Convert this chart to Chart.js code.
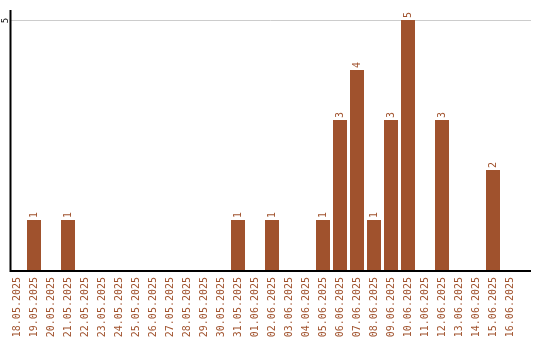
<!DOCTYPE html>
<html><head><meta charset="utf-8">
<script src="https://cdn.jsdelivr.net/npm/chart.js@4/dist/chart.umd.min.js"></script>
<style>html,body{margin:0;padding:0;background:#fff}#wrap{width:540px;height:340px}</style>
</head><body><div id="wrap"><canvas id="c" width="540" height="340"></canvas></div>
<script>
const categories = ["18.05.2025","19.05.2025","20.05.2025","21.05.2025","22.05.2025","23.05.2025","24.05.2025","25.05.2025","26.05.2025","27.05.2025","28.05.2025","29.05.2025","30.05.2025","31.05.2025","01.06.2025","02.06.2025","03.06.2025","04.06.2025","05.06.2025","06.06.2025","07.06.2025","08.06.2025","09.06.2025","10.06.2025","11.06.2025","12.06.2025","13.06.2025","14.06.2025","15.06.2025","16.06.2025"];
const counts = [0,1,0,1,0,0,0,0,0,0,0,0,0,1,0,1,0,0,1,3,4,1,3,5,0,3,0,0,2,0];
const yTicks = [5];

const BROWN = '#A0522D';
const FONT = '"DejaVu Sans Mono", monospace';

const decor = {
  id: 'decor',
  beforeDatasetsDraw(chart) {
    const ctx = chart.ctx, y = chart.scales.y, a = chart.chartArea;
    const axX = 10.5, right = 531;
    ctx.save();
    ctx.strokeStyle = '#cccccc'; ctx.lineWidth = 1;
    yTicks.forEach(v => {
      const py = Math.round(y.getPixelForValue(v)) + 0.5;
      ctx.beginPath(); ctx.moveTo(axX, py); ctx.lineTo(right, py); ctx.stroke();
      ctx.save();
      ctx.translate(6, py); ctx.rotate(-Math.PI/2);
      ctx.fillStyle = '#000'; ctx.font = '9px ' + FONT;
      ctx.textAlign = 'center'; ctx.textBaseline = 'middle';
      ctx.fillText(String(v), 0, 0);
      ctx.restore();
    });
    ctx.restore();
  },
  afterDatasetsDraw(chart) {
    const ctx = chart.ctx, a = chart.chartArea;
    const axX = 10.5, right = 531;
    ctx.save();
    ctx.strokeStyle = '#000'; ctx.lineWidth = 2;
    ctx.beginPath(); ctx.moveTo(axX, a.top); ctx.lineTo(axX, a.bottom + 1); ctx.lineTo(right, a.bottom + 1); ctx.stroke();
    const meta = chart.getDatasetMeta(0);
    ctx.fillStyle = BROWN; ctx.font = '10px ' + FONT;
    ctx.textAlign = 'left'; ctx.textBaseline = 'middle';
    meta.data.forEach((bar, i) => {
      const v = counts[i];
      if (!v) return;
      ctx.save();
      ctx.translate(bar.x, bar.y - 2);
      ctx.rotate(-Math.PI/2);
      ctx.fillText(String(v), 0, 0);
      ctx.restore();
    });
    ctx.restore();
  }
};

new Chart(document.getElementById('c'), {
  type: 'bar',
  data: { labels: categories, datasets: [{ data: counts, backgroundColor: BROWN, categoryPercentage: 1, barPercentage: 14/17 }] },
  options: {
    responsive: false, animation: false,
    layout: { padding: { left: 8.5, right: 21.5, top: 10, bottom: 0 } },
    plugins: { legend: { display: false }, tooltip: { enabled: false } },
    scales: {
      x: {
        grid: { display: false, drawTicks: false }, border: { display: false },
        ticks: { color: BROWN, font: { family: FONT, size: 10 }, minRotation: 90, maxRotation: 90, padding: 7, autoSkip: false },
        afterFit(s) { s.height = 70; }
      },
      y: { display: false, min: 0, max: 5.2 }
    }
  },
  plugins: [decor]
});
</script></body></html>
